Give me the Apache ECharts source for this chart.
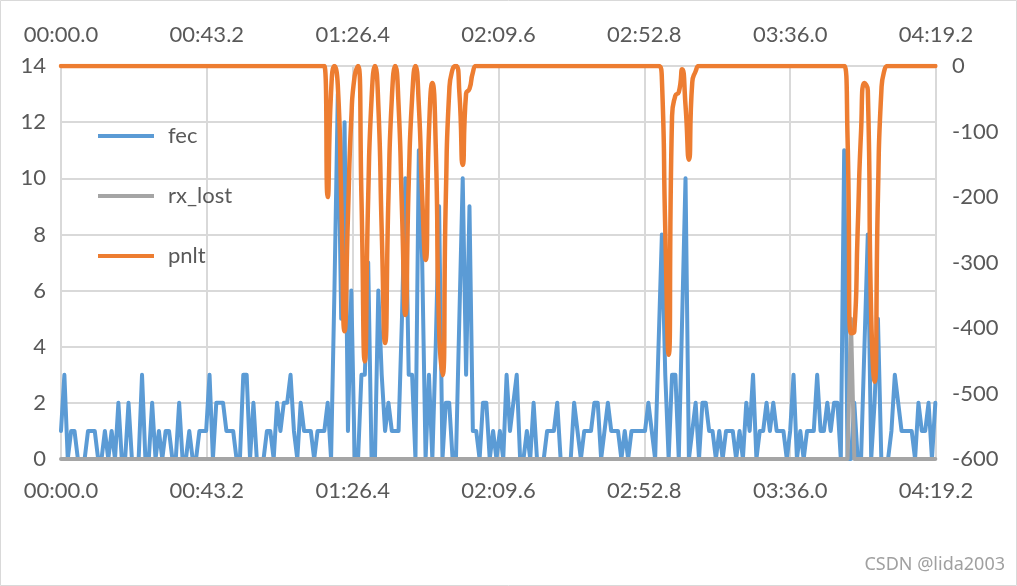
<!DOCTYPE html>
<html>
<head>
<meta charset="utf-8">
<script src="https://cdn.jsdelivr.net/npm/echarts@6/dist/echarts.min.js"></script>
<style>
  html, body { margin: 0; padding: 0; background: #fff; }
  #chart { width: 1017px; height: 586px; }
</style>
</head>
<body>
<div id="chart"></div>
<script>
// Sample time step (seconds) — one sample per second
const sampleStep = 1;

const seriesNames = ['fec', 'rx_lost', 'pnlt'];

const fec = [
  1,3,0,1,1,0,0,0,1,1,
  1,0,0,1,0,1,0,2,0,0,
  2,0,0,0,3,0,0,2,0,1,
  0,1,1,0,0,2,0,0,1,0,
  0,1,1,1,3,0,2,2,2,1,
  1,1,0,0,3,3,0,2,0,0,
  0,1,1,0,2,1,2,2,3,1,
  0,2,1,1,1,0,1,1,1,2,
  0,6,13,5,12,1,6,0,0,3,
  3,7,0,0,6,3,1,2,1,1,
  1,5,10,3,3,0,11,7,0,3,
  0,4,9,0,2,2,0,0,5,10,
  3,9,1,1,0,2,2,0,1,0,
  1,0,3,1,2,3,0,0,1,0,
  2,0,0,0,1,1,1,2,0,0,
  0,0,2,1,0,1,1,1,2,2,
  0,1,2,1,1,1,0,1,0,1,
  1,1,1,1,2,1,0,4,8,3,
  0,3,3,0,5,10,0,1,2,0,
  2,2,1,1,0,1,0,1,1,1,
  0,1,0,2,1,3,0,1,1,2,
  1,2,1,1,1,0,1,3,0,1,
  0,1,1,1,3,1,1,2,1,2,
  2,0,11,0,0,2,0,0,4,8,
  0,2,5,0,0,0,1,3,2,1,
  1,1,1,0,2,1,1,2,0,2
];

// rx_lost is zero everywhere except one spike
const rxLost = new Array(260).fill(0);
const rxLostSpikeIndex = [234];
const rxLostSpikeValue = [5];
rxLostSpikeIndex.forEach((idx, k) => { rxLost[idx] = rxLostSpikeValue[k]; });

// pnlt is zero except during these intervals (start index, values)
const pnltBurst1Start = 78;
const pnltBurst1 = [0,-200,-40,0,-30,-200,-405,-230,-80,-15,
                    0,-200,-451,-200,-50,0,-60,-250,-423,-200,
                    -50,0,-60,-220,-380,-180,-50,0,-60,-200,
                    -296,-100,-26,-120,-400,-472,-200,-40,-5,0,
                    -40,-151,-42,-35,-10,0];
const pnltBurst2Start = 177;
const pnltBurst2 = [0,-20,-250,-441,-80,-45,-40,-5,-60,-143,-25,-8,0];
const pnltBurst3Start = 232;
const pnltBurst3 = [0,-110,-408,-405,-250,-100,-26,-37,-380,-482,-200,-40,-5,0];

const pnlt = new Array(260).fill(0);
[[pnltBurst1Start, pnltBurst1],[pnltBurst2Start, pnltBurst2],[pnltBurst3Start, pnltBurst3]]
  .forEach(([s, arr]) => arr.forEach((v, i) => { pnlt[s + i] = v; }));

const xMax = 259.2, xInterval = 43.2;
const leftMin = 0, leftMax = 14, leftInterval = 2;
const rightMin = -600, rightMax = 0, rightInterval = 100;

function pair(arr) { return arr.map((v, i) => [i * sampleStep, v]); }
function fmtTime(v) {
  const r = Math.round(v * 10) / 10;
  const m = Math.floor(r / 60 + 1e-9);
  const s = r - m * 60;
  const ss = (s < 10 ? '0' : '') + s.toFixed(1);
  return (m < 10 ? '0' : '') + m + ':' + ss;
}

const FONT = 'Lato';
const labelColor = '#595959';
const gridColor = '#D9D9D9';

const chart = echarts.init(document.getElementById('chart'), null, { renderer: 'canvas' });
chart.setOption({
  animation: false,
  backgroundColor: '#ffffff',
  grid: { left: 61, right: 81, top: 66, bottom: 127, containLabel: false },
  legend: {
    orient: 'vertical',
    left: 98, top: 125, padding: 0,
    itemWidth: 56, itemHeight: 4,
    itemGap: 38,
    icon: 'rect',
    data: seriesNames,
    textStyle: { fontFamily: FONT, fontSize: 22, color: labelColor, padding: [0, 0, 0, 9] }
  },
  xAxis: [
    {
      type: 'value', position: 'bottom', min: 0, max: xMax, interval: xInterval,
      axisLine: { show: true, lineStyle: { color: '#BFBFBF', width: 2 } },
      axisTick: { show: false },
      splitLine: { show: true, lineStyle: { color: gridColor, width: 2 } },
      axisLabel: { formatter: fmtTime, fontFamily: FONT, fontSize: 22, color: labelColor, margin: 21 }
    },
    {
      type: 'value', position: 'top', min: 0, max: xMax, interval: xInterval,
      axisLine: { show: false }, axisTick: { show: false }, splitLine: { show: false },
      axisLabel: { formatter: fmtTime, fontFamily: FONT, fontSize: 22, color: labelColor, margin: 20 }
    }
  ],
  yAxis: [
    {
      type: 'value', position: 'left', min: leftMin, max: leftMax, interval: leftInterval,
      axisLine: { show: false }, axisTick: { show: false },
      splitLine: { show: true, lineStyle: { color: gridColor, width: 2 } },
      axisLabel: { fontFamily: FONT, fontSize: 22, color: labelColor, margin: 15 }
    },
    {
      type: 'value', position: 'right', min: rightMin, max: rightMax, interval: rightInterval,
      axisLine: { show: false }, axisTick: { show: false }, splitLine: { show: false },
      axisLabel: { fontFamily: FONT, fontSize: 22, color: labelColor, margin: 16 }
    }
  ],
  series: [
    {
      name: 'fec', type: 'line', xAxisIndex: 0, yAxisIndex: 0,
      data: pair(fec), showSymbol: false, symbol: 'none',
      lineStyle: { color: '#5B9BD5', width: 4, cap: 'round', join: 'round' },
      itemStyle: { color: '#5B9BD5' }
    },
    {
      name: 'rx_lost', type: 'line', xAxisIndex: 0, yAxisIndex: 0,
      data: pair(rxLost), showSymbol: false, symbol: 'none',
      lineStyle: { color: '#A5A5A5', width: 4, cap: 'round', join: 'round' },
      itemStyle: { color: '#A5A5A5' }
    },
    {
      name: 'pnlt', type: 'line', xAxisIndex: 0, yAxisIndex: 1,
      data: pair(pnlt), showSymbol: false, symbol: 'none', smooth: 0.6,
      lineStyle: { color: '#ED7D31', width: 4.5, cap: 'round', join: 'round' },
      itemStyle: { color: '#ED7D31' }
    }
  ],
  graphic: [
    { type: 'rect', silent: true, shape: { x: 0.5, y: 0.5, width: 1016, height: 585 },
      style: { fill: 'none', stroke: '#D9D9D9', lineWidth: 1 } },
    { type: 'text', right: 12, top: 556, silent: true,
      style: { text: 'CSDN @lida2003', fontFamily: 'Noto Sans', fontSize: 18, fill: '#A0A0A0' } }
  ]
});
</script>
</body>
</html>
